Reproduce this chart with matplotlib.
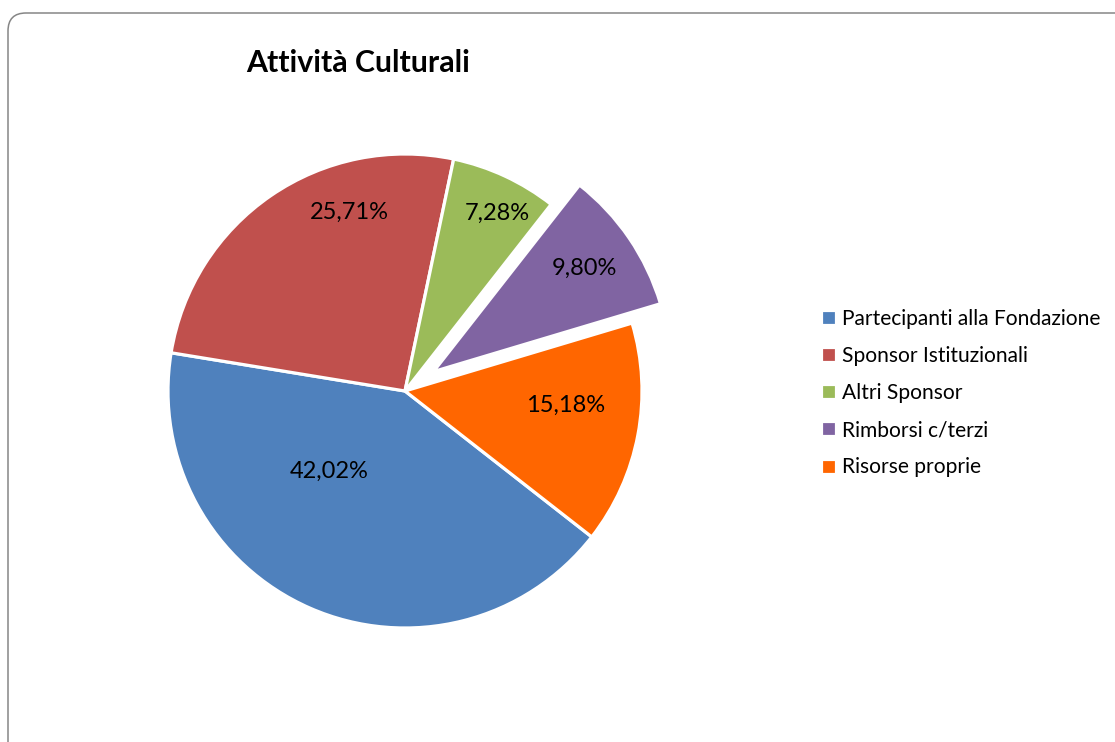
import matplotlib
matplotlib.use("Agg")
import matplotlib.pyplot as plt
import numpy as np
from matplotlib.patches import FancyBboxPatch
from matplotlib.transforms import IdentityTransform

categories = ["Partecipanti alla Fondazione", "Sponsor Istituzionali", "Altri Sponsor",
              "Rimborsi c/terzi", "Risorse proprie"]
values = [42.02, 25.71, 7.28, 9.80, 15.18]
value_labels = ["42,02%", "25,71%", "7,28%", "9,80%", "15,18%"]
title = "Attività Culturali"

colors = ["#4F81BD", "#C0504D", "#9BBB59", "#8064A2", "#FF6600"]
explode = [0, 0, 0, 0.145, 0]
label_r = [0.465, 0.79, 0.845, 0.77, 0.68]
label_dtheta = [-19.5, -17.2, -2.5, 0.0, 5.7]

plt.rcParams['font.family'] = ['Lato', 'DejaVu Sans']

W, H = 1115, 742
fig = plt.figure(figsize=(W / 100, H / 100), dpi=100)

# pie axes: center at (405, 391) px, radius 237 px
R = 237.0
cx, cy = 405.0, 391.0
lim = 1.3
side = 2 * lim * R
ax = fig.add_axes([(cx - side / 2) / W, (H - (cy + side / 2)) / H, side / W, side / H])

wedges, _ = ax.pie(values, colors=colors, explode=explode, startangle=-38,
                   counterclock=False, radius=1.0,
                   wedgeprops=dict(edgecolor="white", linewidth=2.3))
ax.set_xlim(-lim, lim)
ax.set_ylim(-lim, lim)
ax.set_aspect("equal")
ax.axis("off")

for w, lab, r, dth in zip(wedges, value_labels, label_r, label_dtheta):
    mid = np.deg2rad((w.theta1 + w.theta2) / 2 + dth)
    c = w.center
    ax.text(c[0] + r * np.cos(mid), c[1] + r * np.sin(mid), lab,
            ha="center", va="center", fontsize=17, color="black")

fig.text(358 / W, 1 - 63 / H, title, ha="center", va="center",
         fontsize=21.8, fontweight="bold")

leg = fig.legend(wedges, categories, loc="center left",
                 bbox_to_anchor=(802 / W, 1 - 393 / H), frameon=False,
                 fontsize=15.1, handlelength=0.72, handleheight=0.72,
                 handletextpad=0.3, labelspacing=0.82)

border = FancyBboxPatch((8, -30), 1140, H - 13 + 30,
                        boxstyle="round,pad=0,rounding_size=18",
                        transform=IdentityTransform(), facecolor="none",
                        edgecolor="#868686", linewidth=1.1)
fig.patches.append(border)

fig.savefig("out.png", dpi=100)
